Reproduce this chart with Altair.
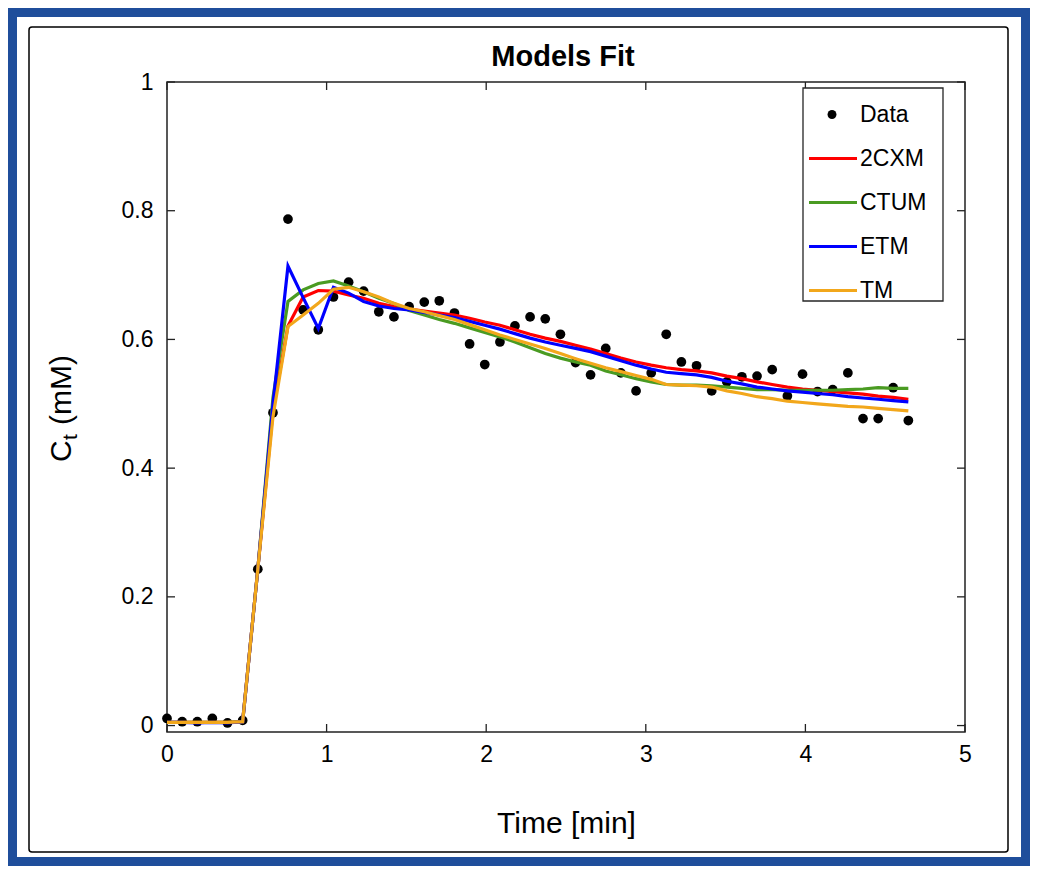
import altair as alt
import pandas as pd

# ---------------- data ----------------
times = [0.000, 0.095, 0.190, 0.284, 0.379, 0.474, 0.569, 0.664, 0.758, 0.853,
         0.948, 1.043, 1.138, 1.232, 1.327, 1.422, 1.517, 1.612, 1.706, 1.801,
         1.896, 1.991, 2.086, 2.180, 2.275, 2.370, 2.465, 2.560, 2.654, 2.749,
         2.844, 2.939, 3.034, 3.128, 3.223, 3.318, 3.413, 3.508, 3.602, 3.697,
         3.792, 3.887, 3.982, 4.076, 4.171, 4.266, 4.361, 4.456, 4.550, 4.645]

data_ct = [0.011, 0.006, 0.006, 0.011, 0.004, 0.008, 0.243, 0.486, 0.787, 0.646,
           0.615, 0.666, 0.689, 0.675, 0.643, 0.635, 0.651, 0.658, 0.660, 0.641,
           0.593, 0.561, 0.596, 0.621, 0.635, 0.632, 0.608, 0.564, 0.545, 0.586,
           0.548, 0.520, 0.548, 0.608, 0.565, 0.559, 0.520, 0.534, 0.542, 0.543,
           0.553, 0.512, 0.546, 0.519, 0.522, 0.548, 0.477, 0.477, 0.525, 0.474]

fit_2cxm = [0.005, 0.005, 0.005, 0.005, 0.005, 0.006, 0.243, 0.490, 0.621, 0.666,
            0.676, 0.675, 0.669, 0.664, 0.656, 0.651, 0.647, 0.644, 0.641, 0.638,
            0.633, 0.627, 0.622, 0.615, 0.608, 0.602, 0.597, 0.591, 0.585, 0.578,
            0.571, 0.565, 0.560, 0.556, 0.553, 0.551, 0.548, 0.543, 0.539, 0.534,
            0.530, 0.526, 0.523, 0.521, 0.519, 0.517, 0.515, 0.512, 0.510, 0.507]

fit_ctum = [0.005, 0.005, 0.005, 0.005, 0.005, 0.006, 0.243, 0.510, 0.659, 0.677,
            0.687, 0.691, 0.683, 0.674, 0.664, 0.656, 0.645, 0.638, 0.631, 0.625,
            0.618, 0.611, 0.604, 0.596, 0.587, 0.578, 0.571, 0.565, 0.560, 0.551,
            0.545, 0.539, 0.534, 0.530, 0.529, 0.529, 0.528, 0.526, 0.524, 0.522,
            0.522, 0.521, 0.521, 0.521, 0.521, 0.522, 0.523, 0.525, 0.524, 0.524]

fit_etm = [0.005, 0.005, 0.004, 0.005, 0.004, 0.006, 0.243, 0.500, 0.714, 0.665,
           0.617, 0.681, 0.672, 0.659, 0.652, 0.648, 0.646, 0.642, 0.638, 0.634,
           0.628, 0.622, 0.616, 0.609, 0.602, 0.596, 0.591, 0.586, 0.581, 0.574,
           0.567, 0.560, 0.554, 0.549, 0.547, 0.545, 0.541, 0.535, 0.531, 0.526,
           0.523, 0.520, 0.518, 0.516, 0.514, 0.511, 0.509, 0.507, 0.505, 0.503]

fit_tm = [0.005, 0.005, 0.005, 0.005, 0.005, 0.006, 0.243, 0.480, 0.620, 0.638,
          0.656, 0.678, 0.681, 0.674, 0.666, 0.656, 0.648, 0.643, 0.637, 0.631,
          0.623, 0.615, 0.607, 0.600, 0.593, 0.586, 0.578, 0.570, 0.563, 0.556,
          0.550, 0.544, 0.538, 0.530, 0.529, 0.528, 0.526, 0.520, 0.516, 0.511,
          0.508, 0.504, 0.502, 0.500, 0.498, 0.496, 0.495, 0.493, 0.491, 0.489]

model_names = ["2CXM", "CTUM", "ETM", "TM"]
model_colors = ["#FF0000", "#4A9B22", "#0000FF", "#F2A71B"]
x_ticks = [0, 1, 2, 3, 4, 5]
y_ticks = [0, 0.2, 0.4, 0.6, 0.8, 1.0]
title_text = "Models Fit"

# ---------------- tables ----------------
df_data = pd.DataFrame({"time": times, "ct": data_ct, "series": "Data"})
fits = [fit_2cxm, fit_ctum, fit_etm, fit_tm]
df_models = pd.concat(
    [pd.DataFrame({"time": times, "ct": v, "series": n}) for n, v in zip(model_names, fits)],
    ignore_index=True,
)
df_xt = pd.DataFrame({"time": x_ticks})
df_yt = pd.DataFrame({"ct": y_ticks})

# ---------------- layout ----------------
W, H = 798, 650
FONT = "Liberation Sans"
TICK = 8

x_scale = alt.Scale(domain=[0, 5], nice=False, zero=False)
y_scale = alt.Scale(domain=[-0.01, 1], nice=False, zero=False)

x_axis = alt.Axis(
    values=x_ticks, format="~g", domain=False, ticks=False, tickSize=0, grid=False,
    labelFont=FONT, labelFontSize=23, labelColor="black", labelPadding=11, labelFlush=False,
    title="Time [min]", titleFont=FONT, titleFontSize=30, titleFontWeight="normal",
    titleColor="black", titleX=399, titleY=91, titleBaseline="middle", titleAlign="center",
)
y_axis = alt.Axis(
    values=y_ticks, format="~g", domain=False, ticks=False, tickSize=0, grid=False,
    labelFont=FONT, labelFontSize=23, labelColor="black", labelPadding=14, labelFlush=False,
    title=None,
)

one = alt.Data(values=[{}])

outer = alt.Chart(one).mark_rect(fillOpacity=0, stroke="#1F4E9B", strokeWidth=9).encode(
    x=alt.value(-154.5), x2=alt.value(858.5), y=alt.value(-69.5), y2=alt.value(779.5)
)
inner = alt.Chart(one).mark_rect(
    fillOpacity=0, stroke="black", strokeWidth=1.5, cornerRadius=3
).encode(x=alt.value(-138), x2=alt.value(841), y=alt.value(-55), y2=alt.value(770))

legend_box = alt.Chart(one).mark_rect(
    fill="white", stroke="#262626", strokeWidth=1.3
).encode(x=alt.value(636), x2=alt.value(776), y=alt.value(6), y2=alt.value(219))

# chart title
title_mark = alt.Chart(one).mark_text(
    font=FONT, fontSize=29, fontWeight="bold", color="black", align="center", baseline="middle"
).encode(x=alt.value(396), y=alt.value(-25), text=alt.value(title_text))

# y-axis title "C_t (mM)" with a real subscript
ytitle_style = dict(angle=270, align="left", baseline="alphabetic", font=FONT, color="black")
yt_c = alt.Chart(one).mark_text(fontSize=30, **ytitle_style).encode(
    x=alt.value(-96.5), y=alt.value(380), text=alt.value("C"))
yt_t = alt.Chart(one).mark_text(fontSize=21, **ytitle_style).encode(
    x=alt.value(-90), y=alt.value(358), text=alt.value("t"))
yt_u = alt.Chart(one).mark_text(fontSize=30, **ytitle_style).encode(
    x=alt.value(-96.5), y=alt.value(343), text=alt.value("(mM)"))

rule_style = dict(color="#222222", strokeWidth=1.3)
t_bottom = alt.Chart(df_xt).mark_rule(**rule_style).encode(
    x=alt.X("time:Q", scale=x_scale), y=alt.value(H), y2=alt.value(H - TICK))
t_top = alt.Chart(df_xt).mark_rule(**rule_style).encode(
    x=alt.X("time:Q", scale=x_scale), y=alt.value(0), y2=alt.value(TICK))
t_left = alt.Chart(df_yt).mark_rule(**rule_style).encode(
    y=alt.Y("ct:Q", scale=y_scale), x=alt.value(0), x2=alt.value(TICK))
t_right = alt.Chart(df_yt).mark_rule(**rule_style).encode(
    y=alt.Y("ct:Q", scale=y_scale), x=alt.value(W), x2=alt.value(W - TICK))

points = alt.Chart(df_data).mark_circle(size=95, opacity=1).encode(
    x=alt.X("time:Q", scale=x_scale, axis=x_axis),
    y=alt.Y("ct:Q", scale=y_scale, axis=y_axis),
    fill=alt.Fill(
        "series:N",
        scale=alt.Scale(domain=["Data"], range=["black"]),
        legend=alt.Legend(
            title=None, orient="none", legendX=653.5, legendY=21, direction="vertical",
            symbolType="circle", symbolSize=80, symbolStrokeWidth=0,
            labelFont=FONT, labelFontSize=23, labelColor="black", labelOffset=16.5,
            symbolOffset=0, padding=0,
        ),
    ),
)

lines = alt.Chart(df_models).mark_line(strokeWidth=3.2).encode(
    x=alt.X("time:Q", scale=x_scale),
    y=alt.Y("ct:Q", scale=y_scale),
    stroke=alt.Stroke(
        "series:N",
        scale=alt.Scale(domain=model_names, range=model_colors),
        legend=alt.Legend(
            title=None, orient="none", legendX=654.5, legendY=65, direction="vertical",
            symbolType="M-2.4,0H2.4", symbolSize=400, symbolStrokeWidth=3,
            labelFont=FONT, labelFontSize=23, labelColor="black", labelOffset=15.5,
            symbolOffset=0, rowPadding=20, padding=0,
        ),
    ),
)

chart = (
    alt.layer(outer, inner, title_mark, yt_c, yt_t, yt_u, t_bottom, t_top, t_left, t_right,
              points, lines, legend_box)
    .resolve_legend(fill="independent", stroke="independent")
    .properties(
        width=W, height=H,
        autosize=alt.AutoSizeParams(type="none"),
        padding={"left": 159, "top": 74, "right": 65, "bottom": 134},
        background="white",
    )
    .configure_view(stroke="#222222", strokeWidth=1.5)
)

chart.save("out.html", embed_options={"renderer": "svg", "actions": False})
